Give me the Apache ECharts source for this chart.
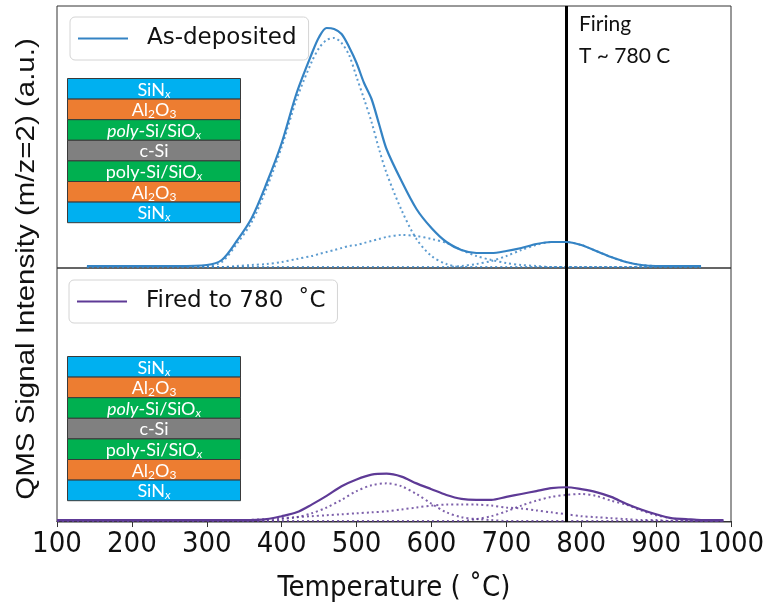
<!DOCTYPE html>
<html>
<head>
<meta charset="utf-8">
<script src="https://cdn.jsdelivr.net/npm/echarts@6/dist/echarts.min.js"></script>
<style>
  html, body { margin: 0; padding: 0; background: #fff; }
  #main { width: 784px; height: 604px; }
</style>
</head>
<body>
<div id="main"></div>
<script>
// x ticks
const tempTicks = [100, 200, 300, 400, 500, 600, 700, 800, 900, 1000];
const firingT = 780;

// top panel: as-deposited (arbitrary units)
const topT = [140, 200, 260, 300, 320, 340, 360, 380, 400, 420, 440, 450, 460, 470, 480, 490, 500, 510, 520, 530, 540, 560, 580, 600, 620, 640, 660, 680, 700, 720, 740, 760, 780, 800, 820, 840, 860, 880, 900, 930, 960];
const asDeposited = [1, 1, 1, 2, 7, 26, 49, 84, 124, 174, 213, 230, 239, 238, 233, 220, 204, 184, 168, 143, 118, 86, 58, 39, 25, 17, 14, 14, 16, 19, 23, 25, 25, 22, 16, 10, 5, 2, 1, 1, 1];
const asDepFit1 = [0, 0, 0, 1, 5, 23, 45, 79, 120, 168, 205, 219, 227, 229, 224, 212, 190, 168, 145, 118, 94, 57, 28, 11, 3, 0, 0, 0, 0, 0, 0, 0, 0, 0, 0, 0, 0, 0, 0, 0, 0];
const asDepFit2 = [0, 0, 0, 0, 0, 1, 2, 3, 5, 8, 11, 13, 15, 17, 19, 21, 22, 24, 26, 28, 30, 32, 31, 28, 24, 17, 11, 7, 4, 2, 1, 0, 0, 0, 0, 0, 0, 0, 0, 0, 0];
const asDepFit3 = [0, 0, 0, 0, 0, 0, 0, 0, 0, 0, 0, 0, 0, 0, 0, 0, 0, 0, 0, 0, 0, 0, 0, 0, 0, 1, 3, 6, 11, 17, 22, 25, 25, 22, 16, 10, 5, 2, 1, 0, 0];

// bottom panel: fired to 780 C
const botT = [100, 150, 200, 250, 300, 350, 380, 400, 420, 440, 460, 480, 500, 520, 540, 560, 580, 600, 620, 640, 660, 680, 700, 720, 740, 760, 780, 800, 820, 840, 860, 880, 900, 920, 940, 960, 990];
const fired = [1, 1, 1, 1, 1, 1, 2, 5, 9, 17, 26, 36, 43, 48, 49, 46, 39, 33, 27, 23, 22, 22, 25, 28, 31, 34, 35, 33, 30, 25, 18, 12, 7, 3, 2, 1, 1];
const firedFit1 = [0, 0, 0, 0, 0, 0, 0, 2, 4, 8, 14, 22, 31, 37, 39, 36, 28, 18, 9, 4, 2, 1, 0, 0, 0, 0, 0, 0, 0, 0, 0, 0, 0, 0, 0, 0, 0];
const firedFit2 = [0, 0, 0, 0, 0, 1, 2, 3, 4, 5, 6, 7, 8, 9, 10, 12, 14, 16, 17, 17, 17, 16, 14, 13, 11, 9, 7, 5, 4, 3, 2, 1, 1, 0, 0, 0, 0];
const firedFit3 = [0, 0, 0, 0, 0, 0, 0, 0, 0, 0, 0, 0, 0, 0, 0, 0, 0, 0, 0, 0, 2, 5, 10, 16, 21, 25, 27, 28, 26, 21, 17, 11, 6, 3, 1, 0, 0];

// layer stack inset
const layerFills = ['#00B0F0', '#ED7D31', '#00B050', '#808080', '#00B050', '#ED7D31', '#00B0F0'];
const layerLabels = [
  '{n|SiN}{i|x}',
  '{n|Al}{s|2}{n|O}{s|3}',
  '{it|poly}{n|-Si/SiO}{i|x}',
  '{n|c-Si}',
  '{n|poly-Si/SiO}{i|x}',
  '{n|Al}{s|2}{n|O}{s|3}',
  '{n|SiN}{i|x}'
];

const blue = '#3483c4';
const purple = '#5e3a96';
const axisFont = "'Liberation Sans Narrow', 'DejaVu Sans Condensed', 'Liberation Sans', sans-serif";

let pairs = (xs, ys) => xs.map((x, i) => [x, ys[i]]);

let solid = (name, idx, xs, ys, color) => ({
  name: name,
  type: 'line',
  xAxisIndex: idx,
  yAxisIndex: idx,
  data: pairs(xs, ys),
  smooth: 0.3,
  symbol: 'none',
  z: 5,
  itemStyle: { color: color },
  lineStyle: { color: color, width: 2.2 },
  markLine: {
    silent: true,
    symbol: ['none', 'none'],
    label: { show: false },
    lineStyle: { color: '#000', width: 3, type: 'solid' },
    data: [{ xAxis: firingT }]
  }
});

let dotted = (name, idx, xs, ys, color) => ({
  name: name,
  type: 'line',
  xAxisIndex: idx,
  yAxisIndex: idx,
  data: pairs(xs, ys),
  smooth: 0.3,
  symbol: 'none',
  z: 4,
  itemStyle: { color: color },
  lineStyle: { color: color, width: 2, type: [2, 3], opacity: 0.8 }
});

let buildStack = (left, top) => {
  const w = 173, h = 20.6;
  const children = [];
  layerFills.forEach((fill, i) => {
    children.push({
      type: 'rect',
      shape: { x: 0, y: i * h, width: w, height: h },
      style: { fill: fill, stroke: '#3a3a3a', lineWidth: 1 }
    });
    children.push({
      type: 'text',
      x: w / 2,
      y: i * h + h / 2 + 1,
      style: {
        text: layerLabels[i],
        align: 'center',
        verticalAlign: 'middle',
        fill: '#fff',
        rich: {
          n: { fontSize: 18, fontFamily: 'Lato', fill: '#fff', lineHeight: 20 },
          it: { fontSize: 18, fontFamily: 'Lato', fontStyle: 'italic', fill: '#fff', lineHeight: 20 },
          s: { fontSize: 12, fontFamily: 'Lato', fill: '#fff', lineHeight: 6, verticalAlign: 'bottom' },
          i: { fontSize: 12, fontFamily: 'Lato', fontStyle: 'italic', fill: '#fff', lineHeight: 6, verticalAlign: 'bottom' }
        }
      }
    });
  });
  return { type: 'group', left: left, top: top, z: 20, children: children };
};

let legendBox = (name, left, top) => ({
  data: [name],
  left: left,
  top: top,
  icon: 'rect',
  itemWidth: 50,
  itemHeight: 2,
  padding: [10, 12, 10, 8],
  backgroundColor: '#fff',
  borderColor: '#d4d4d4',
  borderWidth: 1,
  borderRadius: 5,
  textStyle: { fontSize: 23, fontFamily: 'DejaVu Sans', color: '#111', padding: [0, 0, 0, 14] }
});

const myChart = echarts.init(document.getElementById('main'), null, { renderer: 'canvas' });

myChart.setOption({
  backgroundColor: '#fff',
  animation: false,
  grid: [
    { left: 57, top: 6, width: 674, height: 262, show: true, borderColor: '#333', borderWidth: 1 },
    { left: 57, top: 268, width: 674, height: 263, show: true, borderColor: '#333', borderWidth: 1 }
  ],
  xAxis: [
    {
      gridIndex: 0, type: 'value', min: tempTicks[0], max: tempTicks[tempTicks.length - 1], interval: 100,
      axisLabel: { show: false }, axisTick: { show: false }, axisLine: { show: false }, splitLine: { show: false }
    },
    {
      gridIndex: 1, type: 'value', min: tempTicks[0], max: tempTicks[tempTicks.length - 1], interval: 100,
      axisLabel: { fontSize: 29, fontFamily: axisFont, color: '#111', margin: 8, formatter: v => String(v) },
      axisTick: { show: true, length: 6, lineStyle: { color: '#333' } },
      axisLine: { show: true, lineStyle: { color: '#333' } },
      splitLine: { show: false },
      name: 'Temperature ( ˚C)',
      nameLocation: 'middle',
      nameGap: 52,
      nameTextStyle: { fontSize: 29, fontFamily: axisFont, color: '#111' }
    }
  ],
  yAxis: [
    { gridIndex: 0, type: 'value', min: -1, max: 261, show: false },
    { gridIndex: 1, type: 'value', min: -1, max: 262, show: false }
  ],
  legend: [
    legendBox('As-deposited', 70, 17),
    legendBox('Fired to 780  ˚C', 69, 280)
  ],
  graphic: [
    buildStack(67, 78),
    buildStack(67, 356),
    {
      type: 'text',
      left: 579,
      top: 8,
      z: 20,
      style: { text: 'Firing\nT ~ 780 C', fontSize: 21, fontFamily: 'Lato', fill: '#111', lineHeight: 32 }
    },
    {
      type: 'text',
      x: 27,
      y: 269,
      rotation: Math.PI / 2,
      scaleY: 0.9,
      z: 20,
      style: {
        text: 'QMS Signal Intensity (m/z=2) (a.u.)',
        fontSize: 29.5,
        fontFamily: 'Liberation Sans',
        fill: '#111',
        align: 'center',
        verticalAlign: 'middle'
      }
    }
  ],
  series: [
    dotted('asDepFit1', 0, topT, asDepFit1, blue),
    dotted('asDepFit2', 0, topT, asDepFit2, blue),
    dotted('asDepFit3', 0, topT, asDepFit3, blue),
    solid('As-deposited', 0, topT, asDeposited, blue),
    dotted('firedFit1', 1, botT, firedFit1, purple),
    dotted('firedFit2', 1, botT, firedFit2, purple),
    dotted('firedFit3', 1, botT, firedFit3, purple),
    solid('Fired to 780  ˚C', 1, botT, fired, purple)
  ]
});
</script>
</body>
</html>
